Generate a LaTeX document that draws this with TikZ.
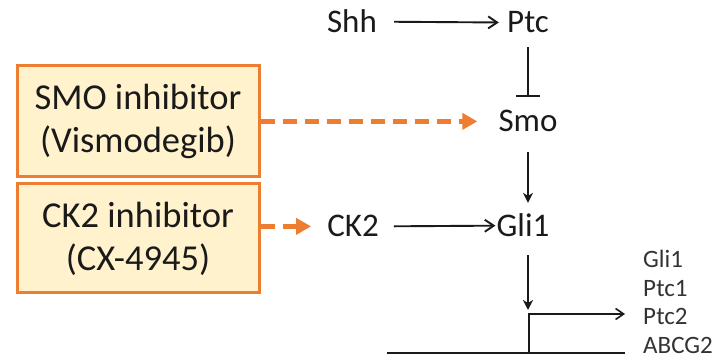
\documentclass[tikz,border=0pt]{standalone}
\usepackage{fontspec}
\setmainfont{Carlito}
\usetikzlibrary{arrows.meta,calc}
\definecolor{boxedge}{HTML}{ED7D31}
\definecolor{boxfill}{HTML}{FFF2CC}
\definecolor{ink}{HTML}{1A1A1A}
\definecolor{geneink}{HTML}{333333}
\tikzset{
  drugbox/.style={draw=boxedge, fill=boxfill, line width=3pt, rectangle,
    minimum width=242pt, inner sep=0pt, align=center, text=ink,
    font=\fontsize{36.5}{43}\selectfont},
  mol/.style={inner sep=0pt, text=ink, font=\fontsize{33}{38}\selectfont},
  gene/.style={inner sep=0pt, anchor=base west, text=geneink, font=\fontsize{25}{29}\selectfont},
  act/.style={draw=ink, line width=1.9pt, -{Straight Barb[length=9pt,width=12pt,line width=1.9pt]}},
  down/.style={draw=ink, line width=1.9pt, -{Stealth[length=10pt,width=10pt,inset=3pt]}},
  inhib/.style={draw=ink, line width=1.9pt, -{Bar[width=24pt,line width=2pt]}},
  drugarrow/.style={draw=boxedge, line width=4.5pt, dash pattern=on 14pt off 8pt,
    -{Triangle[length=15pt,width=16pt]}},
}
\begin{document}
\begin{tikzpicture}[x=1pt,y=-1pt]
\useasboundingbox (0,0) rectangle (721,358);

% drug boxes
\node[drugbox, minimum height=111pt] (smoinh) at (138,121.5) {SMO inhibitor\\(Vismodegib)};
\node[drugbox, minimum height=109pt] (ck2inh) at (138,238.5) {CK2 inhibitor\\(CX-4945)};

% pathway members
\node[mol, anchor=base] (shh) at (352,33) {Shh};
\node[mol, anchor=base] (ptc) at (528,33) {Ptc};
\node[mol, anchor=base] (smo) at (528,132) {Smo};
\node[mol, anchor=base] (ck2) at (353,237) {CK2};
\node[mol, anchor=base] (gli) at (523,237) {Gli1};

% target genes
\node[gene] (g1) at (643,268) {Gli1};
\node[gene] (g2) at (643,296.5) {Ptc1};
\node[gene] (g3) at (643,325) {Ptc2};
\node[gene] (g4) at (643,353) {ABCG2};

% promoter and gene line
\coordinate (glL) at (387,353);
\coordinate (glR) at (625,353);
\coordinate (tss) at (529,353);
\coordinate (tssEnd) at (625,314);
\coordinate (glidown) at (528,310);

% signalling arrows
\draw[act, shorten <=17pt, shorten >=8pt] (shh.east) -- (ptc.west);
\draw[act, shorten <=15pt, shorten >=1pt] (ck2.east) -- (gli.west);
\draw[inhib, shorten <=14pt, shorten >=13pt] (ptc.south) -- (smo.north);
\draw[down, shorten <=20pt, shorten >=11pt] (smo.south) -- (smo.south |- gli.north);
\draw[down, shorten <=18pt] (smo.south |- gli.south) -- (glidown);

% drug actions
\draw[drugarrow, shorten >=21pt] (smoinh.east |- smo.center) -- (smo.west);
\draw[drugarrow, shorten >=16pt] (ck2inh.east |- ck2.center) -- (ck2.west);

% gene with transcription start
\draw[ink, line width=1.6pt] (glL) -- (glR);
\draw[ink, line width=1.6pt, -{Straight Barb[length=8pt,width=11pt,line width=1.6pt]}] (tss) |- (tssEnd);
\end{tikzpicture}
\end{document}
